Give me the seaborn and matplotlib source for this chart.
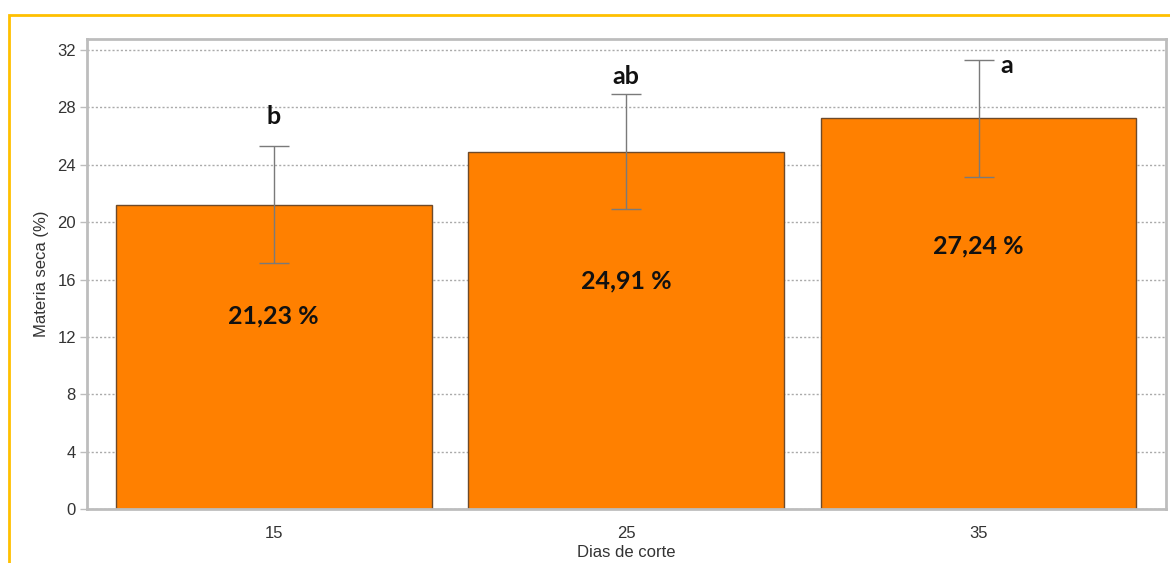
import matplotlib
matplotlib.use("Agg")
import matplotlib.pyplot as plt
from matplotlib.patches import Rectangle
import seaborn as sns
import pandas as pd

dias = ["15", "25", "35"]
materia_seca = [21.23, 24.91, 27.24]
erro = [4.05, 4.02, 4.08]
letras = ["b", "ab", "a"]
rotulos = ["21,23 %", "24,91 %", "27,24 %"]
yticks = [0, 4, 8, 12, 16, 20, 24, 28, 32]

df = pd.DataFrame({"Dias": dias, "MS": materia_seca})

sns.set_theme(style="white")
plt.rcParams["font.family"] = ["Liberation Sans", "DejaVu Sans"]

fig = plt.figure(figsize=(11.7, 5.63), dpi=100)
ax = fig.add_axes([87/1170, 1 - 509/563, (1166-87)/1170, (509-39)/563])

sns.barplot(data=df, x="Dias", y="MS", ax=ax, color="#FF8000", saturation=1,
            width=0.896, edgecolor="#6E4A2A", linewidth=1.0, errorbar=None, zorder=2)

ax.errorbar(range(len(dias)), materia_seca, yerr=erro, fmt="none",
            ecolor="#7A7A7A", elinewidth=1.0, capsize=11, capthick=1.0, zorder=3)

ax.set_ylim(0, 32.77)
ax.set_xlim(-0.53, 2.532)
ax.set_yticks(yticks)
ax.set_yticklabels([str(t) for t in yticks])
ax.yaxis.grid(True, linestyle=(0, (1.5, 1.5)), color="#AAAAAA", linewidth=1.0, zorder=0)
ax.set_axisbelow(True)

for s in ax.spines.values():
    s.set_visible(True)
    s.set_color("#BDBDBD")
    s.set_linewidth(2.0)

ax.tick_params(axis="y", which="both", left=True, length=5, width=1, color="#BDBDBD",
               labelsize=12, labelcolor="#333333", pad=3)
ax.tick_params(axis="x", bottom=False, labelsize=12, labelcolor="#333333", pad=6)
ax.set_xlabel("Dias de corte", fontsize=12, color="#333333", labelpad=3)
ax.set_ylabel("Materia seca (%)", fontsize=12, color="#333333", labelpad=6)

lab_y = [316, 281, 246]
let_y = [117, 77, 66]
let_dx = [0, 0, 0.08]
for i in range(len(dias)):
    ax.text(i, (509 - lab_y[i]) / 14.34, rotulos[i], ha="center", va="center",
            fontsize=18, fontweight="bold", family=["Lato", "DejaVu Sans"], color="#111111")
    ax.text(i + let_dx[i], (509 - let_y[i]) / 14.34, letras[i], ha="center", va="center",
            fontsize=18, fontweight="bold", family=["Lato", "DejaVu Sans"], color="#111111")

fig.patches.append(Rectangle((9/1170, -0.1), 1.2, 1.1 - 15/563, transform=fig.transFigure,
                             fill=False, edgecolor="#FFC000", linewidth=2.0, zorder=10))

fig.savefig("out.png", dpi=100)
